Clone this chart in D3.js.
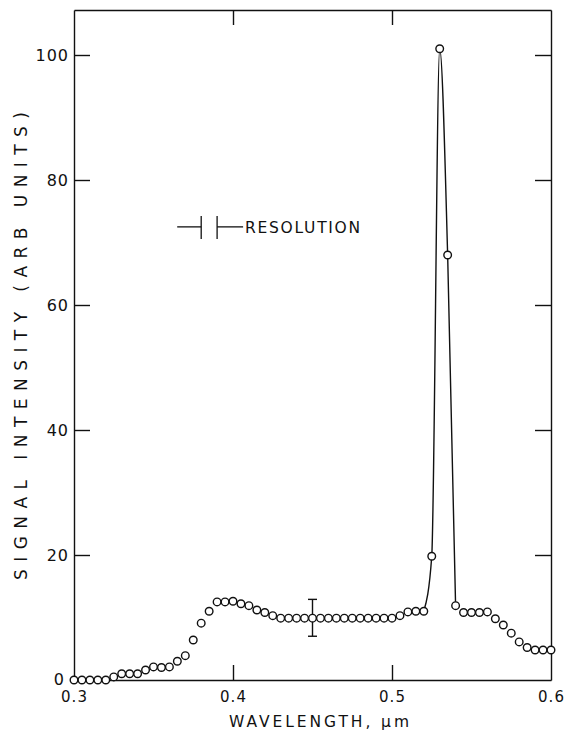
<!DOCTYPE html>
<html>

<head>
    <meta charset='utf-8' />
    <title>Signal intensity vs wavelength</title>
    <script src="https://cdn.jsdelivr.net/npm/d3@7"></script>
    <style>
        body {
            margin: 0;
            padding: 0;
            background: #fff;
        }

        svg text {
            font-family: "DejaVu Sans", sans-serif;
            fill: #111;
        }

        .frame path,
        .frame line {
            stroke: #111;
            stroke-width: 1.4;
        }
    </style>
</head>

<body>
    <div id='chart'></div>
    <script>
        // wavelength in micrometres
        var wavelength = [
            0.300, 0.305, 0.310, 0.315, 0.320, 0.325, 0.330, 0.335, 0.340, 0.345,
            0.350, 0.355, 0.360, 0.365, 0.370, 0.375, 0.380, 0.385, 0.390, 0.395,
            0.400, 0.405, 0.410, 0.415, 0.420, 0.425, 0.430, 0.435, 0.440, 0.445,
            0.450, 0.455, 0.460, 0.465, 0.470, 0.475, 0.480, 0.485, 0.490, 0.495,
            0.500, 0.505, 0.510, 0.515, 0.520, 0.525, 0.530, 0.535, 0.540, 0.545,
            0.550, 0.555, 0.560, 0.565, 0.570, 0.575, 0.580, 0.585, 0.590, 0.595,
            0.600
        ];
        // signal intensity (arb units)
        var intensity = [
            0, 0, 0, 0, 0, 0.5, 1.0, 1.0, 1.0, 1.6,
            2.1, 2.0, 2.1, 3.0, 3.9, 6.4, 9.1, 11.0, 12.5, 12.5,
            12.6, 12.2, 11.9, 11.2, 10.8, 10.3, 9.9, 9.9, 9.9, 9.9,
            9.9, 9.9, 9.9, 9.9, 9.9, 9.9, 9.9, 9.9, 9.9, 9.9,
            9.9, 10.3, 10.9, 11.0, 11.0, 19.8, 101, 68, 11.9, 10.8,
            10.8, 10.8, 10.9, 9.8, 8.8, 7.5, 6.1, 5.2, 4.8, 4.8,
            4.8
        ];
        // the peak is joined by a curve
        var peakWavelength = [0.520, 0.525, 0.530, 0.535, 0.540];
        var peakIntensity = [11.0, 19.8, 101, 68, 11.9];

        // one error bar
        var errWavelength = [0.45];
        var errLow = [7.0];
        var errHigh = [12.9];

        // resolution marker
        var resolution = [0.38, 0.39];
        var resolutionLevel = 72.5;

        var xTicks = [0.3, 0.4, 0.5, 0.6];
        var yTicks = [0, 20, 40, 60, 80, 100];

        var width = 568, height = 735;
        var margin = { left: 74, right: 17, top: 10, bottom: 55 };

        var svg = d3.select('#chart').append('svg')
            .attr('width', width)
            .attr('height', height);

        var x = d3.scaleLinear().domain([0.3, 0.6]).range([margin.left, width - margin.right]);
        var y = d3.scaleLinear().domain([0, 107.2]).range([height - margin.bottom, margin.top]);

        // axes, ticks pointing inwards
        var bottom = svg.append('g').attr('class', 'frame')
            .attr('transform', 'translate(0,' + y(0) + ')')
            .call(d3.axisBottom(x).tickValues(xTicks).tickSize(-15).tickSizeOuter(0).tickPadding(11)
                .tickFormat(d3.format('.1f')));
        var top = svg.append('g').attr('class', 'frame')
            .attr('transform', 'translate(0,' + y.range()[1] + ')')
            .call(d3.axisTop(x).tickValues([0.4, 0.5]).tickSize(-15).tickSizeOuter(0).tickFormat(''));
        var left = svg.append('g').attr('class', 'frame')
            .attr('transform', 'translate(' + x(0.3) + ',0)')
            .call(d3.axisLeft(y).tickValues(yTicks).tickSize(-16).tickSizeOuter(0).tickPadding(5));
        var right = svg.append('g').attr('class', 'frame')
            .attr('transform', 'translate(' + x(0.6) + ',0)')
            .call(d3.axisRight(y).tickValues(yTicks.slice(1)).tickSize(-16).tickSizeOuter(0).tickFormat(''));

        bottom.selectAll('.tick line').filter(function (d) { return d == 0.3 || d == 0.6; }).remove();
        left.selectAll('.tick line').filter(function (d) { return d == 0; }).remove();

        svg.selectAll('.frame text')
            .style('font-family', '"DejaVu Sans", sans-serif')
            .style('letter-spacing', '1px')
            .attr('fill', '#111');
        bottom.selectAll('text').style('font-size', '15px');
        left.selectAll('text').style('font-size', '16px');
        // keep the corner "0" clear of "0.3"
        left.selectAll('.tick text').filter(function (d) { return d == 0; }).attr('x', -9).attr('dy', '0.25em');
        svg.selectAll('.frame .domain').attr('stroke-width', 1.5);

        // axis titles
        svg.append('text')
            .attr('x', 229).attr('y', 727)
            .attr('textLength', 180).attr('lengthAdjust', 'spacing')
            .style('font-size', '15.5px')
            .text('WAVELENGTH, \u03bcm');

        svg.append('text')
            .attr('transform', 'translate(27,580) rotate(-90)')
            .attr('textLength', 468).attr('lengthAdjust', 'spacing')
            .style('font-size', '17px')
            .text('SIGNAL INTENSITY (ARB UNITS)');

        // line through the peak
        var peak = peakWavelength.map(function (d, i) { return [d, peakIntensity[i]]; });
        svg.append('path')
            .datum(peak)
            .attr('fill', 'none')
            .attr('stroke', '#111')
            .attr('stroke-width', 1.4)
            .attr('d', d3.line()
                .x(function (d) { return x(d[0]); })
                .y(function (d) { return y(d[1]); })
                .curve(d3.curveMonotoneX));

        // error bar
        var err = svg.append('g').attr('stroke', '#111').attr('stroke-width', 1.4);
        errWavelength.forEach(function (w, i) {
            err.append('line').attr('x1', x(w)).attr('x2', x(w)).attr('y1', y(errLow[i])).attr('y2', y(errHigh[i]));
            err.append('line').attr('x1', x(w) - 4.5).attr('x2', x(w) + 4.5).attr('y1', y(errLow[i])).attr('y2', y(errLow[i]));
            err.append('line').attr('x1', x(w) - 4.5).attr('x2', x(w) + 4.5).attr('y1', y(errHigh[i])).attr('y2', y(errHigh[i]));
        });

        // data points
        svg.append('g').selectAll('circle')
            .data(wavelength)
            .enter()
            .append('circle')
            .attr('cx', function (d) { return x(d); })
            .attr('cy', function (d, i) { return y(intensity[i]); })
            .attr('r', 3.8)
            .attr('fill', '#fff')
            .attr('stroke', '#111')
            .attr('stroke-width', 1.4);

        // resolution marker  -| |-RESOLUTION
        var res = svg.append('g').attr('stroke', '#111').attr('stroke-width', 1.3);
        var ry = y(resolutionLevel);
        res.append('line').attr('x1', x(resolution[0]) - 24).attr('x2', x(resolution[0])).attr('y1', ry).attr('y2', ry);
        res.append('line').attr('x1', x(resolution[0])).attr('x2', x(resolution[0])).attr('y1', ry - 11).attr('y2', ry + 12);
        res.append('line').attr('x1', x(resolution[1])).attr('x2', x(resolution[1])).attr('y1', ry - 11).attr('y2', ry + 12);
        res.append('line').attr('x1', x(resolution[1])).attr('x2', x(resolution[1]) + 26).attr('y1', ry).attr('y2', ry);
        svg.append('text')
            .attr('x', x(resolution[1]) + 28).attr('y', ry + 6.5)
            .attr('textLength', 115).attr('lengthAdjust', 'spacing')
            .style('font-size', '15.5px')
            .text('RESOLUTION');
    </script>

</body>

</html>
